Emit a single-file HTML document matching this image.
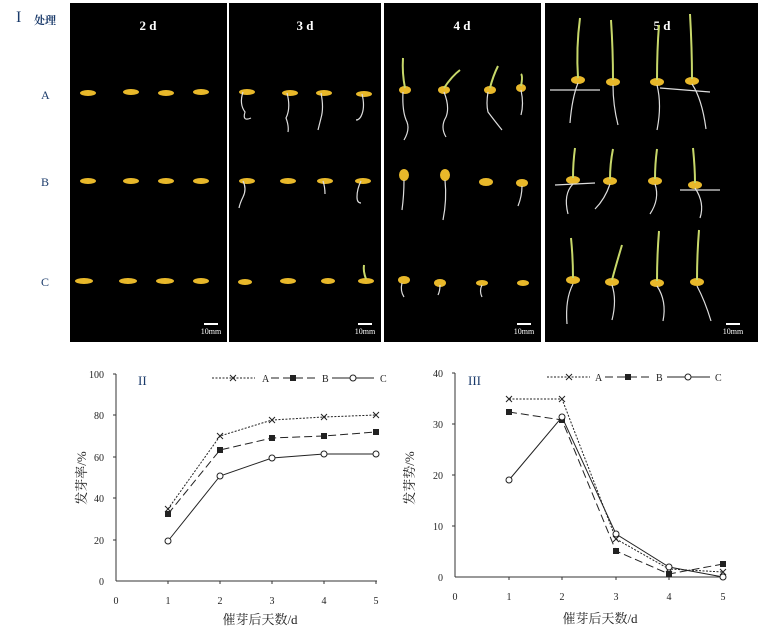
<!DOCTYPE html>
<html><head><meta charset="utf-8"><style>
html,body{margin:0;padding:0;background:#fff;width:758px;height:638px;overflow:hidden}
text{font-family:"Liberation Serif","Noto Serif CJK SC",serif}
</style></head><body>
<svg width="758" height="638" viewBox="0 0 758 638" xmlns="http://www.w3.org/2000/svg">
<defs><path id="x" d="M-3,-3 L3,3 M-3,3 L3,-3" stroke="#222" stroke-width="1" fill="none"/></defs>
<rect width="758" height="638" fill="#fff"/>
<text x="16" y="22" font-size="16" fill="#1a3a6a">I</text>
<text x="34" y="24" font-size="11" font-weight="bold" fill="#1a3a6a" font-family="Noto Sans CJK SC,sans-serif">处理</text>
<text x="41" y="99" font-size="12" fill="#1a3a6a">A</text>
<text x="41" y="186" font-size="12" fill="#1a3a6a">B</text>
<text x="41" y="286" font-size="12" fill="#1a3a6a">C</text>
<rect x="70" y="3" width="157" height="339" fill="#000"/>
<rect x="229" y="3" width="152" height="339" fill="#000"/>
<rect x="384" y="3" width="157" height="339" fill="#000"/>
<rect x="545" y="3" width="213" height="339" fill="#000"/>
<g font-size="13" font-weight="bold" fill="#fff" text-anchor="middle">
<text x="148" y="30">2 d</text><text x="305" y="30">3 d</text><text x="462" y="30">4 d</text><text x="662" y="30">5 d</text>
</g>
<g fill="#fff" font-size="8" text-anchor="middle">
<rect x="204" y="323" width="14" height="2"/><text x="211" y="334">10mm</text>
<rect x="358" y="323" width="14" height="2"/><text x="365" y="334">10mm</text>
<rect x="517" y="323" width="14" height="2"/><text x="524" y="334">10mm</text>
<rect x="726" y="323" width="14" height="2"/><text x="733" y="334">10mm</text>
</g>
<g fill="#e8b82a">
<ellipse cx="88" cy="93" rx="8" ry="3"/><ellipse cx="131" cy="92" rx="8" ry="3"/><ellipse cx="166" cy="93" rx="8" ry="3"/><ellipse cx="201" cy="92" rx="8" ry="3"/>
<ellipse cx="88" cy="181" rx="8" ry="3"/><ellipse cx="131" cy="181" rx="8" ry="3"/><ellipse cx="166" cy="181" rx="8" ry="3"/><ellipse cx="201" cy="181" rx="8" ry="3"/>
<ellipse cx="84" cy="281" rx="9" ry="3"/><ellipse cx="128" cy="281" rx="9" ry="3"/><ellipse cx="165" cy="281" rx="9" ry="3"/><ellipse cx="201" cy="281" rx="8" ry="3"/>
<ellipse cx="247" cy="92" rx="8" ry="3"/><ellipse cx="290" cy="93" rx="8" ry="3"/><ellipse cx="324" cy="93" rx="8" ry="3"/><ellipse cx="364" cy="94" rx="8" ry="3"/>
<ellipse cx="247" cy="181" rx="8" ry="3"/><ellipse cx="288" cy="181" rx="8" ry="3"/><ellipse cx="325" cy="181" rx="8" ry="3"/><ellipse cx="363" cy="181" rx="8" ry="3"/>
<ellipse cx="245" cy="282" rx="7" ry="3"/><ellipse cx="288" cy="281" rx="8" ry="3"/><ellipse cx="328" cy="281" rx="7" ry="3"/><ellipse cx="366" cy="281" rx="8" ry="3"/>
<ellipse cx="405" cy="90" rx="6" ry="4"/><ellipse cx="444" cy="90" rx="6" ry="4"/><ellipse cx="490" cy="90" rx="6" ry="4"/><ellipse cx="521" cy="88" rx="5" ry="4"/>
<ellipse cx="404" cy="175" rx="5" ry="6"/><ellipse cx="445" cy="175" rx="5" ry="6"/><ellipse cx="486" cy="182" rx="7" ry="4"/><ellipse cx="522" cy="183" rx="6" ry="4"/>
<ellipse cx="404" cy="280" rx="6" ry="4"/><ellipse cx="440" cy="283" rx="6" ry="4"/><ellipse cx="482" cy="283" rx="6" ry="3"/><ellipse cx="523" cy="283" rx="6" ry="3"/>
<ellipse cx="578" cy="80" rx="7" ry="4"/><ellipse cx="613" cy="82" rx="7" ry="4"/><ellipse cx="657" cy="82" rx="7" ry="4"/><ellipse cx="692" cy="81" rx="7" ry="4"/>
<ellipse cx="573" cy="180" rx="7" ry="4"/><ellipse cx="610" cy="181" rx="7" ry="4"/><ellipse cx="655" cy="181" rx="7" ry="4"/><ellipse cx="695" cy="185" rx="7" ry="4"/>
<ellipse cx="573" cy="280" rx="7" ry="4"/><ellipse cx="612" cy="282" rx="7" ry="4"/><ellipse cx="657" cy="283" rx="7" ry="4"/><ellipse cx="697" cy="282" rx="7" ry="4"/>
</g>
<g stroke="#ddd" stroke-width="1.2" fill="none">
<path d="M243 92 q-4 12 2 20 q-3 10 6 6"/><path d="M287 93 q4 15 -1 25 q3 8 2 14"/><path d="M321 93 q3 15 0 25 q-2 8 -3 12"/><path d="M362 94 q3 12 0 20 q-2 6 -6 6"/>
<path d="M243 181 q4 8 0 16 q-3 6 -4 11"/><path d="M323 181 q2 6 2 13"/><path d="M361 181 q-4 8 -4 16 q0 6 4 6"/>
<path d="M403 92 q-1 20 4 30 q3 8 -3 18"/><path d="M444 92 q6 15 2 25 q-6 10 0 20"/><path d="M488 92 q-2 12 0 20 q6 8 14 18"/><path d="M521 90 q3 14 0 25"/>
<path d="M404 180 q0 15 -2 30"/><path d="M445 180 q2 20 -2 40"/><path d="M522 186 q0 10 -4 20"/>
<path d="M402 283 q-2 8 2 14"/><path d="M440 285 q0 6 -2 10"/><path d="M482 285 q-3 6 0 12"/>
<path d="M578 83 q-6 15 -8 40"/><path d="M613 85 q0 20 5 40"/><path d="M657 85 q5 20 0 45"/><path d="M692 84 q10 15 14 45"/><path d="M550 90 l50 0"/><path d="M660 88 l50 4"/>
<path d="M573 184 q-10 10 -5 30"/><path d="M610 184 q-5 15 -15 25"/><path d="M655 184 q5 15 -5 30"/><path d="M695 188 q10 15 5 30"/><path d="M555 185 l40 -2"/><path d="M680 190 l40 0"/>
<path d="M573 284 q-8 15 -6 40"/><path d="M612 285 q5 15 0 35"/><path d="M657 286 q10 15 6 35"/><path d="M697 286 q8 15 14 35"/>
</g>
<g stroke="#c8d86a" stroke-width="2" fill="none">
<path d="M578 78 q-2 -30 2 -60"/><path d="M613 80 q0 -30 -2 -60"/><path d="M657 80 q0 -30 2 -55"/><path d="M692 79 q0 -30 -2 -65"/>
<path d="M573 178 q0 -15 2 -30"/><path d="M610 179 q0 -15 3 -30"/><path d="M655 179 q0 -15 2 -30"/><path d="M695 183 q0 -15 -2 -35"/>
<path d="M573 278 q0 -20 -2 -40"/><path d="M612 280 q4 -15 10 -35"/><path d="M657 281 q0 -25 2 -50"/><path d="M697 280 q0 -25 2 -50"/>
<path d="M405 88 q-3 -15 -2 -30"/><path d="M444 88 q8 -12 16 -18"/><path d="M490 88 q3 -12 8 -22"/><path d="M521 86 q2 -10 0 -12"/>
<path d="M366 279 q-3 -8 -2 -14"/>
</g>
<!-- Chart II -->
<g font-size="10" fill="#222">
<line x1="116" y1="374" x2="116" y2="581" stroke="#333"/>
<line x1="116" y1="581" x2="377" y2="581" stroke="#333"/>
<g stroke="#333"><line x1="113" y1="374" x2="116" y2="374"/><line x1="113" y1="415" x2="116" y2="415"/><line x1="113" y1="457" x2="116" y2="457"/><line x1="113" y1="498" x2="116" y2="498"/><line x1="113" y1="540" x2="116" y2="540"/>
<line x1="168" y1="581" x2="168" y2="584"/><line x1="220" y1="581" x2="220" y2="584"/><line x1="272" y1="581" x2="272" y2="584"/><line x1="324" y1="581" x2="324" y2="584"/><line x1="376" y1="581" x2="376" y2="584"/></g>
<g text-anchor="end"><text x="104" y="378">100</text><text x="104" y="419">80</text><text x="104" y="461">60</text><text x="104" y="502">40</text><text x="104" y="544">20</text><text x="104" y="585">0</text></g>
<g text-anchor="middle"><text x="116" y="604">0</text><text x="168" y="604">1</text><text x="220" y="604">2</text><text x="272" y="604">3</text><text x="324" y="604">4</text><text x="376" y="604">5</text></g>
<text x="260" y="624" font-size="13" text-anchor="middle">催芽后天数/d</text>
<text transform="translate(86,478) rotate(-90)" font-size="13" text-anchor="middle">发芽率/%</text>
<text x="138" y="385" font-size="13" fill="#1a3a6a">II</text>
<line x1="212" y1="378" x2="255" y2="378" stroke="#222" stroke-dasharray="2,1.5"/><use href="#x" x="233" y="378"/><text x="262" y="382">A</text>
<line x1="271" y1="378" x2="315" y2="378" stroke="#222" stroke-dasharray="8,4"/><rect x="290" y="375" width="6" height="6"/><text x="322" y="382">B</text>
<line x1="332" y1="378" x2="374" y2="378" stroke="#222"/><circle cx="353" cy="378" r="3" fill="#fff" stroke="#222"/><text x="380" y="382">C</text>
<polyline fill="none" stroke="#222" stroke-dasharray="2,1.5" points="168,509 220,436 272,420 324,417 376,415"/>
<polyline fill="none" stroke="#222" stroke-dasharray="8,4" points="168,514 220,450 272,438 324,436 376,432"/>
<polyline fill="none" stroke="#222" points="168,541 220,476 272,458 324,454 376,454"/>
<use href="#x" x="168" y="509"/><use href="#x" x="220" y="436"/><use href="#x" x="272" y="420"/><use href="#x" x="324" y="417"/><use href="#x" x="376" y="415"/>
<g><rect x="165" y="511" width="6" height="6"/><rect x="217" y="447" width="6" height="6"/><rect x="269" y="435" width="6" height="6"/><rect x="321" y="433" width="6" height="6"/><rect x="373" y="429" width="6" height="6"/></g>
<g fill="#fff" stroke="#222"><circle cx="168" cy="541" r="3"/><circle cx="220" cy="476" r="3"/><circle cx="272" cy="458" r="3"/><circle cx="324" cy="454" r="3"/><circle cx="376" cy="454" r="3"/></g>
</g>
<!-- Chart III -->
<g font-size="10" fill="#222">
<line x1="455" y1="373" x2="455" y2="577" stroke="#333"/>
<line x1="455" y1="577" x2="724" y2="577" stroke="#333"/>
<g stroke="#333"><line x1="452" y1="373" x2="455" y2="373"/><line x1="452" y1="424" x2="455" y2="424"/><line x1="452" y1="475" x2="455" y2="475"/><line x1="452" y1="526" x2="455" y2="526"/>
<line x1="509" y1="577" x2="509" y2="580"/><line x1="562" y1="577" x2="562" y2="580"/><line x1="616" y1="577" x2="616" y2="580"/><line x1="669" y1="577" x2="669" y2="580"/><line x1="723" y1="577" x2="723" y2="580"/></g>
<g text-anchor="end"><text x="443" y="377">40</text><text x="443" y="428">30</text><text x="443" y="479">20</text><text x="443" y="530">10</text><text x="443" y="581">0</text></g>
<g text-anchor="middle"><text x="455" y="600">0</text><text x="509" y="600">1</text><text x="562" y="600">2</text><text x="616" y="600">3</text><text x="669" y="600">4</text><text x="723" y="600">5</text></g>
<text x="600" y="623" font-size="13" text-anchor="middle">催芽后天数/d</text>
<text transform="translate(414,478) rotate(-90)" font-size="13" text-anchor="middle">发芽势/%</text>
<text x="468" y="385" font-size="13" fill="#1a3a6a">III</text>
<line x1="547" y1="377" x2="590" y2="377" stroke="#222" stroke-dasharray="2,1.5"/><use href="#x" x="569" y="377"/><text x="595" y="381">A</text>
<line x1="605" y1="377" x2="650" y2="377" stroke="#222" stroke-dasharray="8,4"/><rect x="625" y="374" width="6" height="6"/><text x="656" y="381">B</text>
<line x1="667" y1="377" x2="710" y2="377" stroke="#222"/><circle cx="688" cy="377" r="3" fill="#fff" stroke="#222"/><text x="715" y="381">C</text>
<polyline fill="none" stroke="#222" stroke-dasharray="2,1.5" points="509,399 562,399 616,539 669,569 723,572"/>
<polyline fill="none" stroke="#222" stroke-dasharray="8,4" points="509,412 562,420 616,551 669,574 723,564"/>
<polyline fill="none" stroke="#222" points="509,480 562,417 616,534 669,567 723,577"/>
<use href="#x" x="509" y="399"/><use href="#x" x="562" y="399"/><use href="#x" x="616" y="539"/><use href="#x" x="669" y="569"/><use href="#x" x="723" y="572"/>
<g><rect x="506" y="409" width="6" height="6"/><rect x="559" y="417" width="6" height="6"/><rect x="613" y="548" width="6" height="6"/><rect x="666" y="571" width="6" height="6"/><rect x="720" y="561" width="6" height="6"/></g>
<g fill="#fff" stroke="#222"><circle cx="509" cy="480" r="3"/><circle cx="562" cy="417" r="3"/><circle cx="616" cy="534" r="3"/><circle cx="669" cy="567" r="3"/><circle cx="723" cy="577" r="3"/></g>
</g>
</svg>
</body></html>
